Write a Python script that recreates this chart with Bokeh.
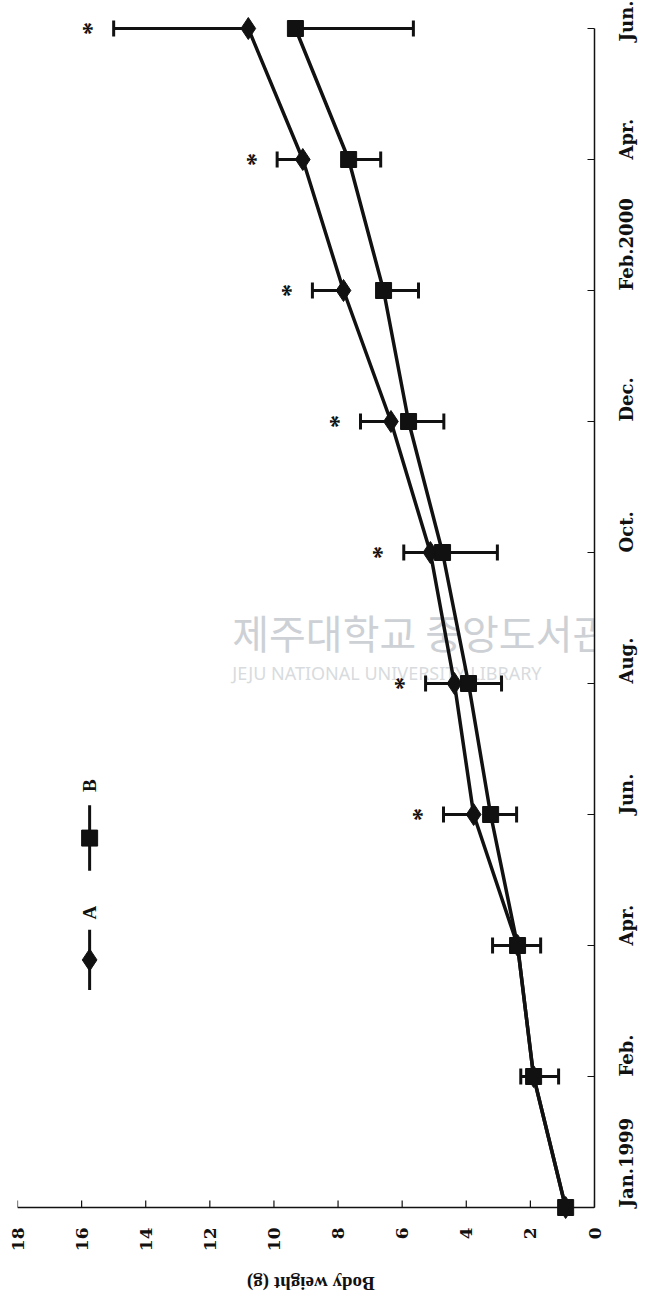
import math
import numpy as np
from bokeh.plotting import figure
from bokeh.layouts import column
from bokeh.models import Range1d, LinearAxis, FixedTicker, Label
from bokeh.core.properties import value
from bokeh.embed import file_html
from bokeh.resources import INLINE

# ---- data ----
months = ["Jan.1999", "Feb.", "Apr.", "Jun.", "Aug.", "Oct.", "Dec.",
          "Feb.2000", "Apr.", "Jun."]
a_mean = [0.9, 1.9, 2.4, 3.77, 4.37, 5.12, 6.35, 7.83, 9.1, 10.8]
a_upper = [np.nan, 2.3, 3.18, 4.71, 5.27, 5.95, 7.3, 8.8, 9.9, 15.0]
b_mean = [0.9, 1.9, 2.4, 3.24, 3.93, 4.74, 5.8, 6.58, 7.67, 9.33]
b_lower = [np.nan, 1.12, 1.68, 2.43, 2.9, 3.03, 4.7, 5.49, 6.67, 5.65]
significant = [False, False, False, True, True, True, True, True, True, True]
weight_ticks = [0, 2, 4, 6, 8, 10, 12, 14, 16, 18]
series_names = ["A", "B"]
y_title = "Body weight (g)"

t = list(range(len(months)))

SERIF = "DejaVu Serif"
TIMES = "Liberation Serif"
INK = "#111111"
PX_PER_T = 131.0  # screen pixels per month step (for small decorations)

x_range = Range1d(18, 0)

p = figure(frame_width=577, frame_height=1220,
           x_range=x_range, y_range=Range1d(-13 / PX_PER_T, 9 + 28 / PX_PER_T),
           y_axis_location=None, x_axis_location="below",
           output_backend="svg", toolbar_location=None, tools="")
p.min_border_left = 17
p.min_border_right = 57
p.min_border_top = 0
p.min_border_bottom = 42
p.outline_line_color = None
p.xgrid.visible = False
p.ygrid.visible = False
p.background_fill_color = "white"
p.border_fill_color = "white"

# weight axis (bottom): labels from the axis, line and ticks drawn at t = 0
xa = p.xaxis[0]
xa.ticker = FixedTicker(ticks=weight_ticks)
xa.major_label_orientation = math.pi / 2
xa.major_label_text_font = SERIF
xa.major_label_text_font_style = "bold"
xa.major_label_text_font_size = "17px"
xa.major_label_text_color = INK
xa.major_label_standoff = 7
xa.major_tick_in = 0
xa.major_tick_out = 0
xa.minor_tick_line_color = None
xa.major_tick_line_color = None
xa.axis_line_color = None

p.segment(x0=[min(weight_ticks)], y0=[0], x1=[max(weight_ticks)], y1=[0],
          line_color=INK, line_width=1.5)
p.segment(x0=weight_ticks, y0=[0] * len(weight_ticks), x1=weight_ticks,
          y1=[7 / PX_PER_T] * len(weight_ticks), line_color=INK, line_width=1.2)

# time axis (right)
ya = LinearAxis(ticker=FixedTicker(ticks=t), bounds=(0, 9),
                major_label_overrides={i: m for i, m in zip(t, months)})
ya.major_label_orientation = math.pi / 2
ya.major_label_text_font = SERIF
ya.major_label_text_font_style = "bold"
ya.major_label_text_font_size = "18px"
ya.major_label_text_color = INK
ya.major_label_standoff = 32
ya.major_tick_in = 7
ya.major_tick_out = 0
ya.minor_tick_line_color = None
ya.axis_line_width = 1.5
ya.axis_line_color = INK
ya.major_tick_line_color = INK
p.add_layout(ya, "right")

# watermark (scan artefact)
p.add_layout(Label(x=11.3, y=4.39, text="제주대학교 중앙도서관",
                   text_font="Noto Sans CJK KR", text_font_size="40px",
                   text_color="#cdd1d5", text_align="left", text_baseline="middle",
                   level="underlay"))
p.add_layout(Label(x=11.3, y=4.08, text="JEJU NATIONAL UNIVERSITY LIBRARY",
                   text_font="Noto Sans", text_font_size="18px",
                   text_color="#d8dbde", text_align="left", text_baseline="middle",
                   level="underlay"))

# error bars
p.segment(x0=a_mean, y0=t, x1=a_upper, y1=t, line_color=INK, line_width=3)
p.rect(x=a_upper, y=t, width=3, height=16, width_units="screen",
       height_units="screen", fill_color=INK, line_color=None)
p.segment(x0=b_mean, y0=t, x1=b_lower, y1=t, line_color=INK, line_width=3)
p.rect(x=b_lower, y=t, width=3, height=16, width_units="screen",
       height_units="screen", fill_color=INK, line_color=None)

# lines and markers
p.line(x=a_mean, y=t, line_color=INK, line_width=3.5)
p.line(x=b_mean, y=t, line_color=INK, line_width=3.5)
p.scatter(x=a_mean, y=t, marker="diamond", size=22, fill_color=INK, line_color=INK)
p.scatter(x=b_mean, y=t, marker="square", size=16, fill_color=INK, line_color=INK)

# significance asterisks
sig_x = [u for u, s in zip(a_upper, significant) if s]
sig_t = [ti for ti, s in zip(t, significant) if s]
p.text(x=sig_x, y=sig_t, text=["*"] * len(sig_x), x_offset=-22, angle=math.pi / 2,
       text_font=value(TIMES), text_font_style="bold", text_font_size="26px",
       text_color=INK, text_align="center", text_baseline="middle")

# legend (rotated with the page)
leg_x = 15.75
p.line(x=[leg_x, leg_x], y=[1.66, 2.12], line_color=INK, line_width=3)
p.scatter(x=[leg_x], y=[1.89], marker="diamond", size=22, fill_color=INK, line_color=INK)
p.line(x=[leg_x, leg_x], y=[2.57, 3.07], line_color=INK, line_width=3)
p.scatter(x=[leg_x], y=[2.82], marker="square", size=16, fill_color=INK, line_color=INK)
p.text(x=[leg_x, leg_x], y=[2.25, 3.22], text=series_names, angle=math.pi / 2,
       text_font=value(TIMES), text_font_style="bold", text_font_size="19px",
       text_color=INK, text_align="center", text_baseline="middle")

# upside-down axis title in a strip below the chart (shares the weight scale)
q = figure(frame_width=577, frame_height=48, x_range=x_range, y_range=Range1d(0, 1),
           x_axis_location=None, y_axis_location=None,
           output_backend="svg", toolbar_location=None, tools="")
q.min_border_left = 17
q.min_border_right = 57
q.min_border_top = 0
q.min_border_bottom = 0
q.outline_line_color = None
q.xgrid.visible = False
q.ygrid.visible = False
q.text(x=[(min(weight_ticks) + max(weight_ticks)) / 2 - 0.15], y=[0.56], text=[y_title],
       angle=math.pi, text_font=value(TIMES), text_font_style="bold",
       text_font_size="19px", text_color=INK, text_align="center",
       text_baseline="middle")

layout = column(p, q, spacing=0)
open("out.html", "w").write(file_html(layout, INLINE))
